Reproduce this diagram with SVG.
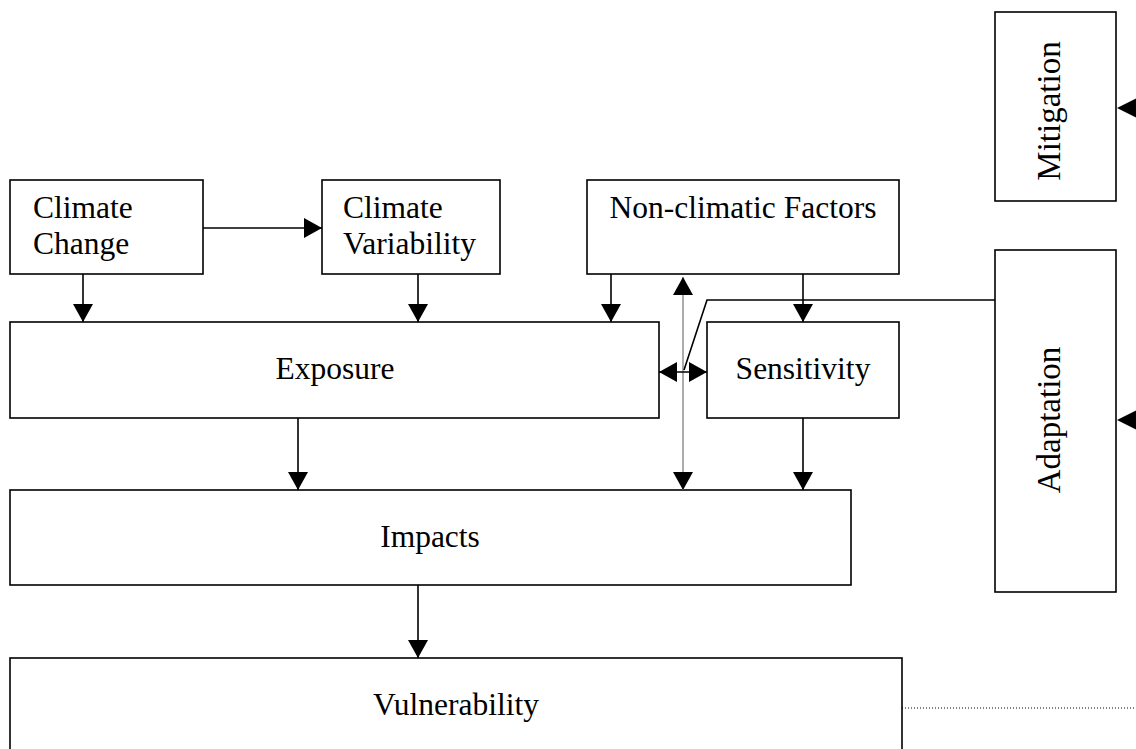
<svg xmlns="http://www.w3.org/2000/svg" width="1136" height="749" viewBox="0 0 1136 749">
<style>
.box{fill:#fff;stroke:#000;stroke-width:1.6}
.t{font-family:"Liberation Serif","Times New Roman",serif;font-size:31.5px;fill:#000}
.r{font-size:33px}
.c{text-anchor:middle}
.ln{stroke:#000;stroke-width:1.6;fill:none}
.gl{stroke:#808080;stroke-width:1.3;fill:none}
</style>
<defs>
<marker id="ah" viewBox="0 0 18 20" refX="18" refY="10" markerWidth="18" markerHeight="20" markerUnits="userSpaceOnUse" orient="auto-start-reverse">
<path d="M0,0 L18,10 L0,20 Z" fill="#000"/>
</marker>
</defs>
<g id="climate-change"><rect class="box" x="10" y="180" width="193" height="94"/><text class="t" x="33" y="218">Climate</text><text class="t" x="33" y="254">Change</text></g>
<g id="climate-variability"><rect class="box" x="322" y="180" width="178" height="94"/><text class="t" x="343" y="218">Climate</text><text class="t" x="343" y="254">Variability</text></g>
<g id="non-climatic"><rect class="box" x="587" y="180" width="312" height="94"/><text class="t c" x="743" y="218">Non-climatic Factors</text></g>
<g id="exposure"><rect class="box" x="10" y="322" width="649" height="96"/><text class="t c" x="335" y="379">Exposure</text></g>
<g id="sensitivity"><rect class="box" x="707" y="322" width="192" height="96"/><text class="t c" x="803" y="379">Sensitivity</text></g>
<g id="impacts"><rect class="box" x="10" y="490" width="841" height="95"/><text class="t c" x="430" y="547">Impacts</text></g>
<g id="vulnerability"><rect class="box" x="10" y="658" width="892" height="100"/><text class="t c" x="456" y="715">Vulnerability</text></g>
<g id="mitigation"><rect class="box" x="995" y="12" width="121" height="189"/><text class="t r c" transform="translate(1060,111) rotate(-90)">Mitigation</text></g>
<g id="adaptation"><rect class="box" x="995" y="250" width="121" height="342"/><text class="t r c" transform="translate(1060,420) rotate(-90)">Adaptation</text></g>
<g id="connectors">
<line class="ln" x1="203" y1="228" x2="322" y2="228" marker-end="url(#ah)"/>
<line class="ln" x1="83" y1="274" x2="83" y2="322" marker-end="url(#ah)"/>
<line class="ln" x1="418" y1="274" x2="418" y2="322" marker-end="url(#ah)"/>
<line class="ln" x1="611" y1="274" x2="611" y2="322" marker-end="url(#ah)"/>
<line class="ln" x1="803" y1="274" x2="803" y2="322" marker-end="url(#ah)"/>
<line class="gl" x1="683" y1="277" x2="683" y2="490" marker-start="url(#ah)" marker-end="url(#ah)"/>
<line class="ln" x1="659" y1="372" x2="707" y2="372" marker-start="url(#ah)" marker-end="url(#ah)"/>
<polyline class="ln" points="995,300 707,300 684,370"/>
<line class="ln" x1="298" y1="418" x2="298" y2="490" marker-end="url(#ah)"/>
<line class="ln" x1="803" y1="418" x2="803" y2="490" marker-end="url(#ah)"/>
<line class="ln" x1="418" y1="585" x2="418" y2="658" marker-end="url(#ah)"/>
<line x1="902" y1="708" x2="1136" y2="708" stroke="#000" stroke-width="1" stroke-dasharray="1,2"/>
<path d="M1117,108 L1137,98 L1137,118 Z" fill="#000"/>
<path d="M1117,420 L1137,410 L1137,430 Z" fill="#000"/>
</g>
</svg>
